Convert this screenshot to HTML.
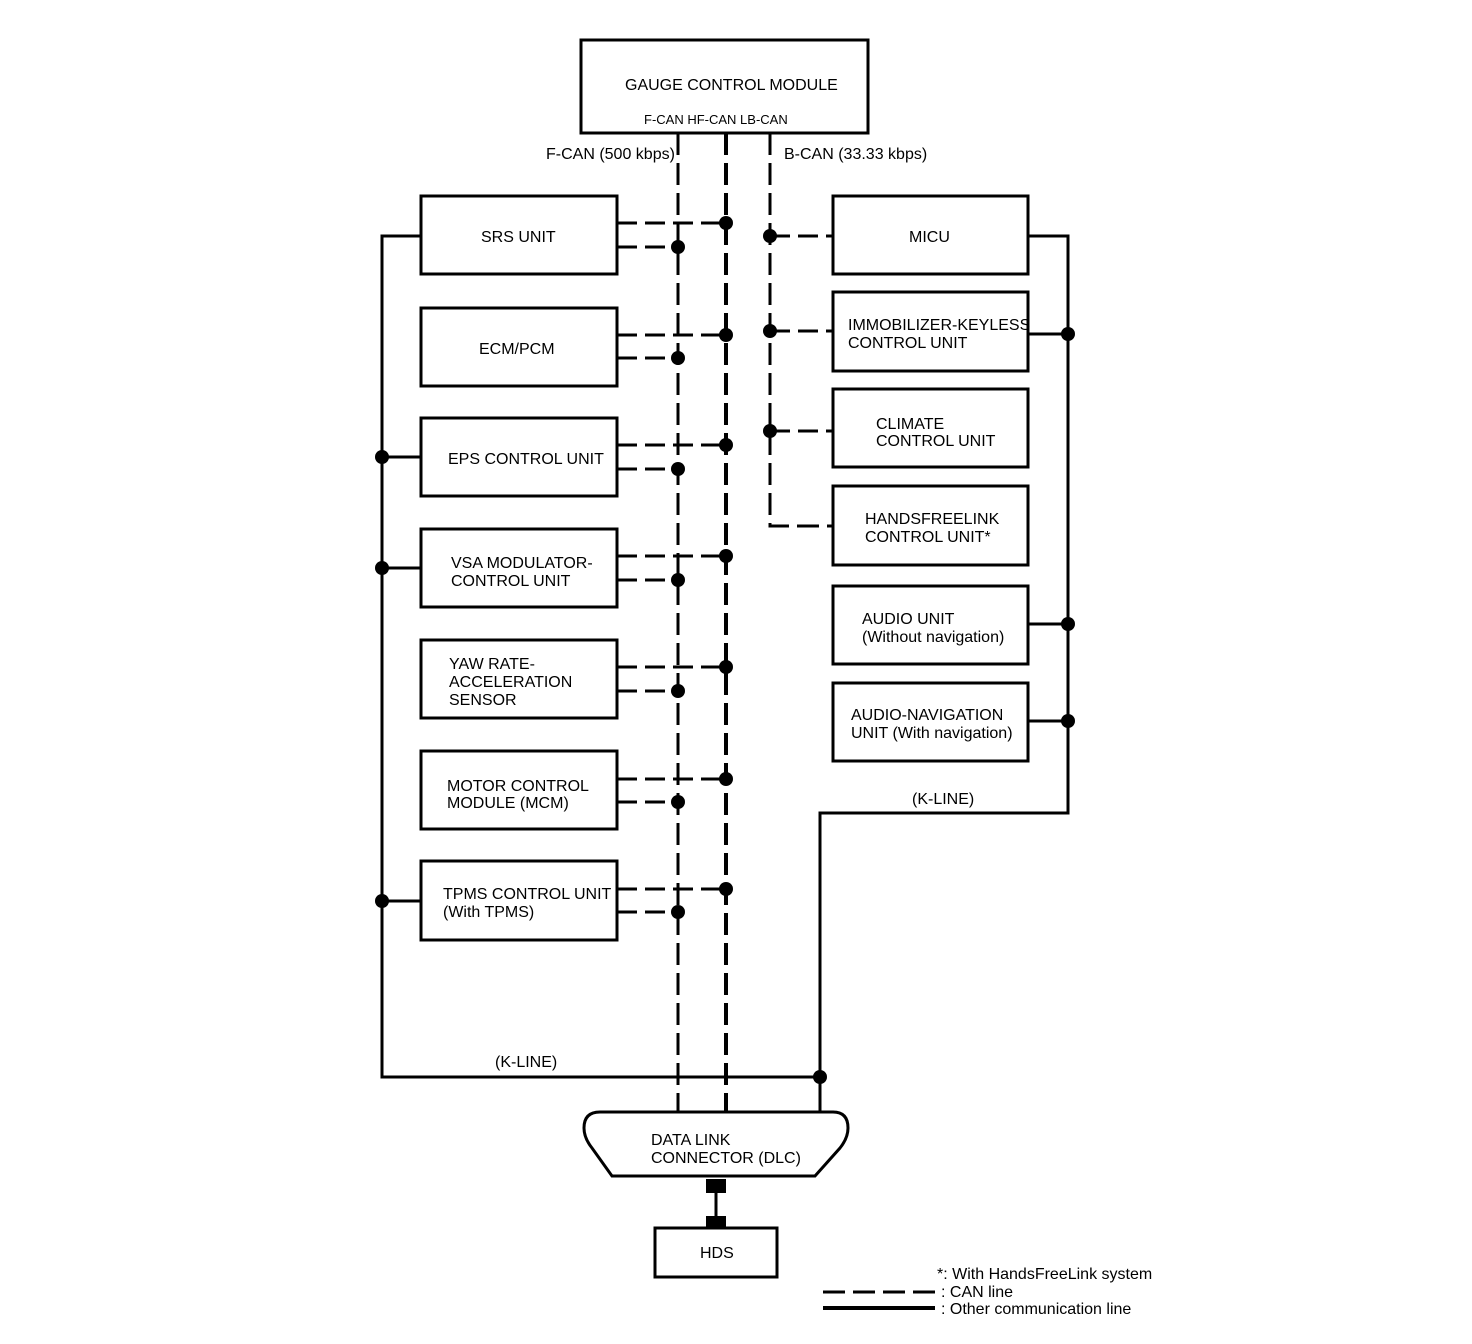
<!DOCTYPE html>
<html><head><meta charset="utf-8"><style>
html,body{margin:0;padding:0;background:#fff;}
svg{display:block;}
text{font-family:"Liberation Sans",sans-serif;font-size:16px;fill:#000;}
.s{font-size:13px;}
</style></head><body>
<svg width="1472" height="1344" viewBox="0 0 1472 1344" xmlns="http://www.w3.org/2000/svg">
<g fill="none" stroke="#000">
<!-- GCM -->
<rect x="581" y="40" width="287" height="93" stroke-width="3"/>
<!-- CAN trunks -->
<line x1="678" y1="133" x2="678" y2="1113" stroke-width="3" stroke-dasharray="22,8"/>
<line x1="726" y1="133" x2="726" y2="1113" stroke-width="4" stroke-dasharray="22,8"/>
<polyline points="770,133 770,526 833,526" stroke-width="3" stroke-dasharray="22,8"/>
<!-- left boxes -->
<g stroke-width="3">
<rect x="421" y="196" width="196" height="78"/>
<rect x="421" y="308" width="196" height="78"/>
<rect x="421" y="418" width="196" height="78"/>
<rect x="421" y="529" width="196" height="78"/>
<rect x="421" y="640" width="196" height="78"/>
<rect x="421" y="751" width="196" height="78"/>
<rect x="421" y="861" width="196" height="79"/>
<!-- right boxes -->
<rect x="833" y="196" width="195" height="78"/>
<rect x="833" y="292" width="195" height="79"/>
<rect x="833" y="389" width="195" height="78"/>
<rect x="833" y="486" width="195" height="79"/>
<rect x="833" y="586" width="195" height="78"/>
<rect x="833" y="683" width="195" height="78"/>
</g>
<!-- left CAN stubs -->
<g stroke-width="3" stroke-dasharray="20,8">
<line x1="617" y1="223" x2="726" y2="223"/><line x1="617" y1="247" x2="678" y2="247"/>
<line x1="617" y1="335" x2="726" y2="335"/><line x1="617" y1="358" x2="678" y2="358"/>
<line x1="617" y1="445" x2="726" y2="445"/><line x1="617" y1="469" x2="678" y2="469"/>
<line x1="617" y1="556" x2="726" y2="556"/><line x1="617" y1="580" x2="678" y2="580"/>
<line x1="617" y1="667" x2="726" y2="667"/><line x1="617" y1="691" x2="678" y2="691"/>
<line x1="617" y1="779" x2="726" y2="779"/><line x1="617" y1="802" x2="678" y2="802"/>
<line x1="617" y1="889" x2="726" y2="889"/><line x1="617" y1="912" x2="678" y2="912"/>
<line x1="770" y1="236" x2="833" y2="236"/>
<line x1="770" y1="331" x2="833" y2="331"/>
<line x1="770" y1="431" x2="833" y2="431"/>
</g>
<!-- K lines -->
<g stroke-width="3">
<polyline points="421,236 382,236 382,1077 820,1077"/>
<line x1="382" y1="457" x2="421" y2="457"/>
<line x1="382" y1="568" x2="421" y2="568"/>
<line x1="382" y1="901" x2="421" y2="901"/>
<polyline points="1028,236 1068,236 1068,813 820,813 820,1113"/>
<line x1="1028" y1="334" x2="1068" y2="334"/>
<line x1="1028" y1="624" x2="1068" y2="624"/>
<line x1="1028" y1="721" x2="1068" y2="721"/>
</g>
<!-- DLC -->
<path d="M600,1112 L833,1112 Q848,1112 848,1128 Q848,1138 840,1148 L815,1176 L612,1176 L592,1148 Q584,1138 584,1128 Q584,1112 600,1112 Z" stroke-width="3"/>
<line x1="716" y1="1186" x2="716" y2="1222" stroke-width="3"/>
<rect x="655" y="1228" width="122" height="49" stroke-width="3"/>
<!-- legend -->
<line x1="823" y1="1292" x2="935" y2="1292" stroke-width="3" stroke-dasharray="22,8"/>
<line x1="823" y1="1308" x2="935" y2="1308" stroke-width="4"/>
</g>
<g fill="#000">
<rect x="706" y="1179" width="20" height="14"/>
<rect x="706" y="1216" width="20" height="13"/>
<g>
<circle cx="726" cy="223" r="7"/><circle cx="678" cy="247" r="7"/>
<circle cx="726" cy="335" r="7"/><circle cx="678" cy="358" r="7"/>
<circle cx="726" cy="445" r="7"/><circle cx="678" cy="469" r="7"/>
<circle cx="726" cy="556" r="7"/><circle cx="678" cy="580" r="7"/>
<circle cx="726" cy="667" r="7"/><circle cx="678" cy="691" r="7"/>
<circle cx="726" cy="779" r="7"/><circle cx="678" cy="802" r="7"/>
<circle cx="726" cy="889" r="7"/><circle cx="678" cy="912" r="7"/>
<circle cx="770" cy="236" r="7"/><circle cx="770" cy="331" r="7"/><circle cx="770" cy="431" r="7"/>
<circle cx="382" cy="457" r="7"/><circle cx="382" cy="568" r="7"/><circle cx="382" cy="901" r="7"/>
<circle cx="1068" cy="334" r="7"/><circle cx="1068" cy="624" r="7"/><circle cx="1068" cy="721" r="7"/>
<circle cx="820" cy="1077" r="7"/>
</g>
</g>
<text x="625" y="90">GAUGE CONTROL MODULE</text>
<text x="644" y="124" class="s">F-CAN HF-CAN LB-CAN</text>
<text x="546" y="159">F-CAN (500 kbps)</text>
<text x="784" y="159">B-CAN (33.33 kbps)</text>
<text x="481" y="242">SRS UNIT</text>
<text x="479" y="354">ECM/PCM</text>
<text x="448" y="464">EPS CONTROL UNIT</text>
<text x="451" y="568">VSA MODULATOR-</text><text x="451" y="586">CONTROL UNIT</text>
<text x="449" y="669">YAW RATE-</text><text x="449" y="687">ACCELERATION</text><text x="449" y="705">SENSOR</text>
<text x="447" y="791">MOTOR CONTROL</text><text x="447" y="808">MODULE (MCM)</text>
<text x="443" y="899">TPMS CONTROL UNIT</text><text x="443" y="917">(With TPMS)</text>
<text x="909" y="242">MICU</text>
<text x="848" y="330">IMMOBILIZER-KEYLESS</text><text x="848" y="348">CONTROL UNIT</text>
<text x="876" y="429">CLIMATE</text><text x="876" y="446">CONTROL UNIT</text>
<text x="865" y="524">HANDSFREELINK</text><text x="865" y="542">CONTROL UNIT*</text>
<text x="862" y="624">AUDIO UNIT</text><text x="862" y="642">(Without navigation)</text>
<text x="851" y="720">AUDIO-NAVIGATION</text><text x="851" y="738">UNIT (With navigation)</text>
<text x="912" y="804">(K-LINE)</text>
<text x="495" y="1067">(K-LINE)</text>
<text x="651" y="1145">DATA LINK</text><text x="651" y="1163">CONNECTOR (DLC)</text>
<text x="700" y="1258">HDS</text>
<text x="937" y="1279">*: With HandsFreeLink system</text>
<text x="941" y="1297">: CAN line</text>
<text x="941" y="1314">: Other communication line</text>
</svg>
</body></html>
